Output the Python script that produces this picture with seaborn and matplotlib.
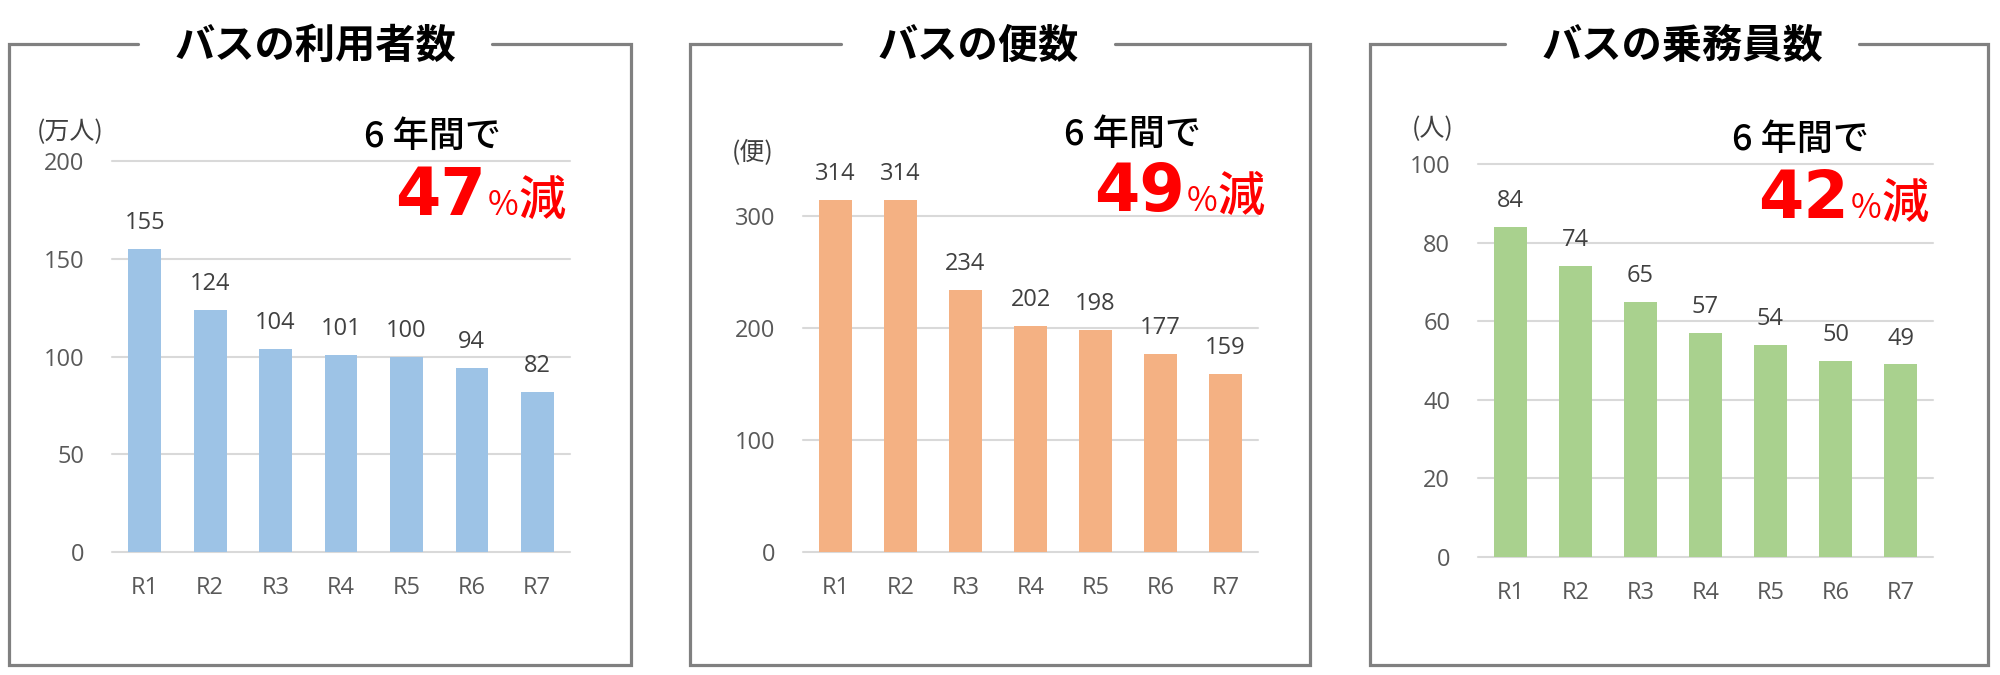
import numpy as np
import pandas as pd
import matplotlib.pyplot as plt
import seaborn as sns
from matplotlib.lines import Line2D

# data
years = ['R1', 'R2', 'R3', 'R4', 'R5', 'R6', 'R7']
riders = [155, 124, 104, 101, 100, 94, 82]      # 万人
trips = [314, 314, 234, 202, 198, 177, 159]     # 便
drivers = [84, 74, 65, 57, 54, 50, 49]          # 人

titles = ['バスの利用者数', 'バスの便数', 'バスの乗務員数']
units = ['(万人)', '(便)', '(人)']
drops = ['47', '49', '42']
bar_colors = ['#9DC3E6', '#F4B183', '#A9D18E']
ymaxes = [200, 350, 100]
yticks = [[0, 50, 100, 150, 200], [0, 100, 200, 300], [0, 20, 40, 60, 80, 100]]

sns.set_theme(style='white')
plt.rcParams['font.family'] = ['Open Sans', 'Noto Sans CJK JP', 'DejaVu Sans']
CJK = ['Noto Sans CJK JP', 'DejaVu Sans']

W, H = 2000, 675
def fx(px):
    return px / W
def fy(py):
    return 1 - py / H

# layout in pixels (left, right, y of zero, y of top)
layout = [
    dict(ax=(112, 570, 552, 161), frame=(9, 631), title_x=315, unit=(70, 132), note=(364, 137), drop=(395, 215)),
    dict(ax=(803, 1258, 552, 160), frame=(690, 1310), title_x=978, unit=(753, 153), note=(1064, 135), drop=(1094, 211)),
    dict(ax=(1478, 1933, 557, 164), frame=(1370, 1988), title_x=1682, unit=(1433, 129), note=(1732, 140), drop=(1758, 218)),
]
frame_top, frame_bottom = 44, 665

fig = plt.figure(figsize=(20, 6.75), dpi=100)
fig.patch.set_facecolor('white')

series = [riders, trips, drivers]
title_texts = []
drop_texts = []
for i, vals in enumerate(series):
    lay = layout[i]
    l, r, y0, yt = lay['ax']
    ax = fig.add_axes([fx(l), fy(y0), (r - l) / W, (y0 - yt) / H])
    df = pd.DataFrame({'year': years, 'value': vals})
    sns.barplot(data=df, x='year', y='value', color=bar_colors[i], saturation=1,
                width=0.5, linewidth=0, ax=ax)
    ax.set_xlim(-0.5, 6.5)
    ax.set_ylim(0, ymaxes[i])
    ax.set_yticks(yticks[i])
    ax.set_xlabel('')
    ax.set_ylabel('')
    ax.grid(axis='y', color='#d9d9d9', linewidth=1.5)
    ax.grid(axis='x', visible=False)
    ax.set_axisbelow(True)
    for gl in ax.get_ygridlines():
        gl.set_clip_on(False)
    for s in ax.spines.values():
        s.set_visible(False)
    ax.tick_params(axis='y', length=0, pad=20, labelsize=17, labelcolor='#595959')
    ax.tick_params(axis='x', length=0, pad=17, labelsize=17, labelcolor='#595959')
    ax.bar_label(ax.containers[0], padding=10, fontsize=17, color='#404040')

    # unit label and note
    fig.text(fx(lay['unit'][0]), fy(lay['unit'][1]), units[i], ha='center', va='center',
             fontsize=18, color='#404040', family=CJK)
    fig.text(fx(lay['note'][0]), fy(lay['note'][1]), '6 年間で', ha='left', va='center',
             fontsize=26, color='black', fontweight='medium', family=CJK)

    t = fig.text(fx(lay['title_x']), fy(46), titles[i], ha='center', va='center',
                 fontsize=29, fontweight='bold', color='black', family=CJK)
    title_texts.append(t)

    t1 = fig.text(fx(lay['drop'][0]), fy(lay['drop'][1]), drops[i], ha='left', va='baseline',
                  fontsize=47, fontweight='bold', color='#FF0000', family=['DejaVu Sans'])
    drop_texts.append(t1)

fig.canvas.draw()
renderer = fig.canvas.get_renderer()

# "%減" after the big number
for i, t1 in enumerate(drop_texts):
    y = fy(layout[i]['drop'][1])
    x1 = t1.get_window_extent(renderer).x1 / W
    t2 = fig.text(x1 + 0.001, y, '%', ha='left', va='baseline', fontsize=24,
                  color='#FF0000', family=CJK)
    x2 = t2.get_window_extent(renderer).x1 / W
    fig.text(x2, y, '減', ha='left', va='baseline', fontsize=34, fontweight='medium',
             color='#FF0000', family=CJK)

# frames with a gap for the title
for i, t in enumerate(title_texts):
    bb = t.get_window_extent(renderer)
    gap_l, gap_r = bb.x0 - 36, bb.x1 + 36
    fl, fr = layout[i]['frame']
    xs = [gap_l, fl, fl, fr, fr, gap_r]
    ys = [frame_top, frame_top, frame_bottom, frame_bottom, frame_top, frame_top]
    fig.add_artist(Line2D([fx(v) for v in xs], [fy(v) for v in ys], transform=fig.transFigure,
                          color='#808080', linewidth=2.3, solid_joinstyle='miter'))

fig.savefig('out.png', dpi=100)
